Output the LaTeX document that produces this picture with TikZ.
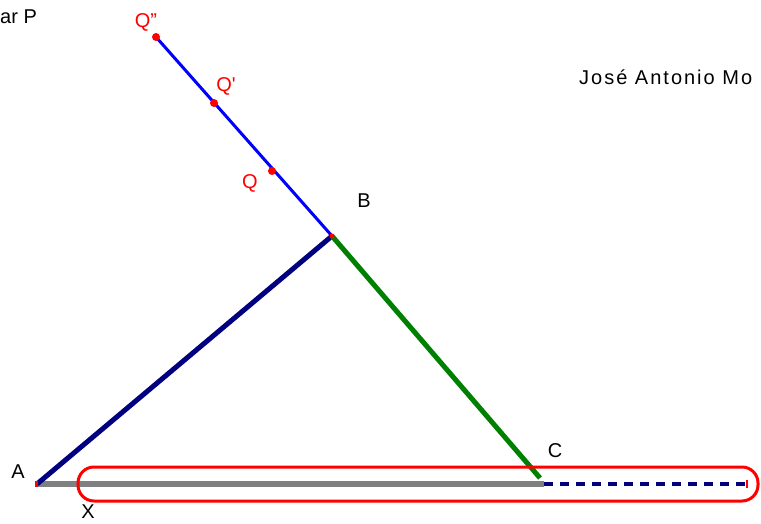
\documentclass[tikz,border=0pt]{standalone}
\usepackage{fontspec}
\setmainfont{Liberation Sans}
\usetikzlibrary{arrows.meta,positioning,calc}
\definecolor{ptred}{HTML}{FF0000}
\definecolor{segnavy}{HTML}{000080}
\definecolor{segblue}{HTML}{0000FF}
\definecolor{seggreen}{HTML}{008000}
\definecolor{seggray}{HTML}{808080}
\tikzset{
  lbl/.style={font=\fontsize{20}{24}\selectfont,inner sep=0pt},
  ptlbl/.style={lbl,text=ptred},
  pt/.style={circle,fill=ptred,inner sep=0pt,minimum size=8pt},
  segA/.style={draw=segnavy,line width=5pt},
  segB/.style={draw=seggreen,line width=5pt},
  segQ/.style={draw=segblue,line width=3pt},
  base/.style={draw=seggray,line width=6pt},
  ext/.style={draw=segnavy,line width=3.5pt,dash pattern=on 9pt off 7pt},
  ring/.style={draw=ptred,line width=3pt,rounded corners=16pt},
}
\begin{document}
\begin{tikzpicture}[x=1pt,y=-1pt]
    \useasboundingbox (0,0) rectangle (761,524);
    % points of the construction
    \coordinate (A) at (37,484);
    \coordinate (B) at (332,236);
    \coordinate (C) at (544,484);
    \coordinate (E) at (747,484);
    \coordinate (Q2) at (156,37);
    \coordinate (Q1) at (214,103);
    \coordinate (Q0) at (272,171);
    % segments
    \draw[segQ](B)--(Q2);
    \draw[base](A)--(C);
    \draw[ext](C)--(E);
    \draw[segA](A)--(B);
    \draw[segB](B)--(540,478);
    \node[pt] (q2) at (Q2){};
    \node[pt] (q1) at (Q1){};
    \node[pt] (q0) at (Q0){};
    \node[pt,minimum size=5pt] (b) at (B){};
    \draw[ptred,line width=3pt](A)++(-1,-3)--++(0,6);
    \draw[ptred,line width=2pt](E)++(0,-4)--++(0,8);
    \draw[ring](78,467) rectangle (758,501);
    % labels
    \node[ptlbl] (lq2) at (146,22){Q\symbol{34}};
    \node[ptlbl] (lq1) at (226,86){Q\textquotesingle};
    \node[ptlbl] (lq0) at (250,183){Q};
    \node[lbl] (lb) at (364,201){B};
    \node[lbl] (la) at (18,472){A};
    \node[lbl] (lc) at (555,451){C};
    \node[lbl] (lx) at (88,512){X};
    \node[lbl,anchor=west] (top) at (0,17){ar P};
    \node[lbl,anchor=west,font=\fontsize{20}{24}\selectfont\addfontfeature{LetterSpace=10}] (name) at (579,77){José Antonio Mo};
\end{tikzpicture}
\end{document}
